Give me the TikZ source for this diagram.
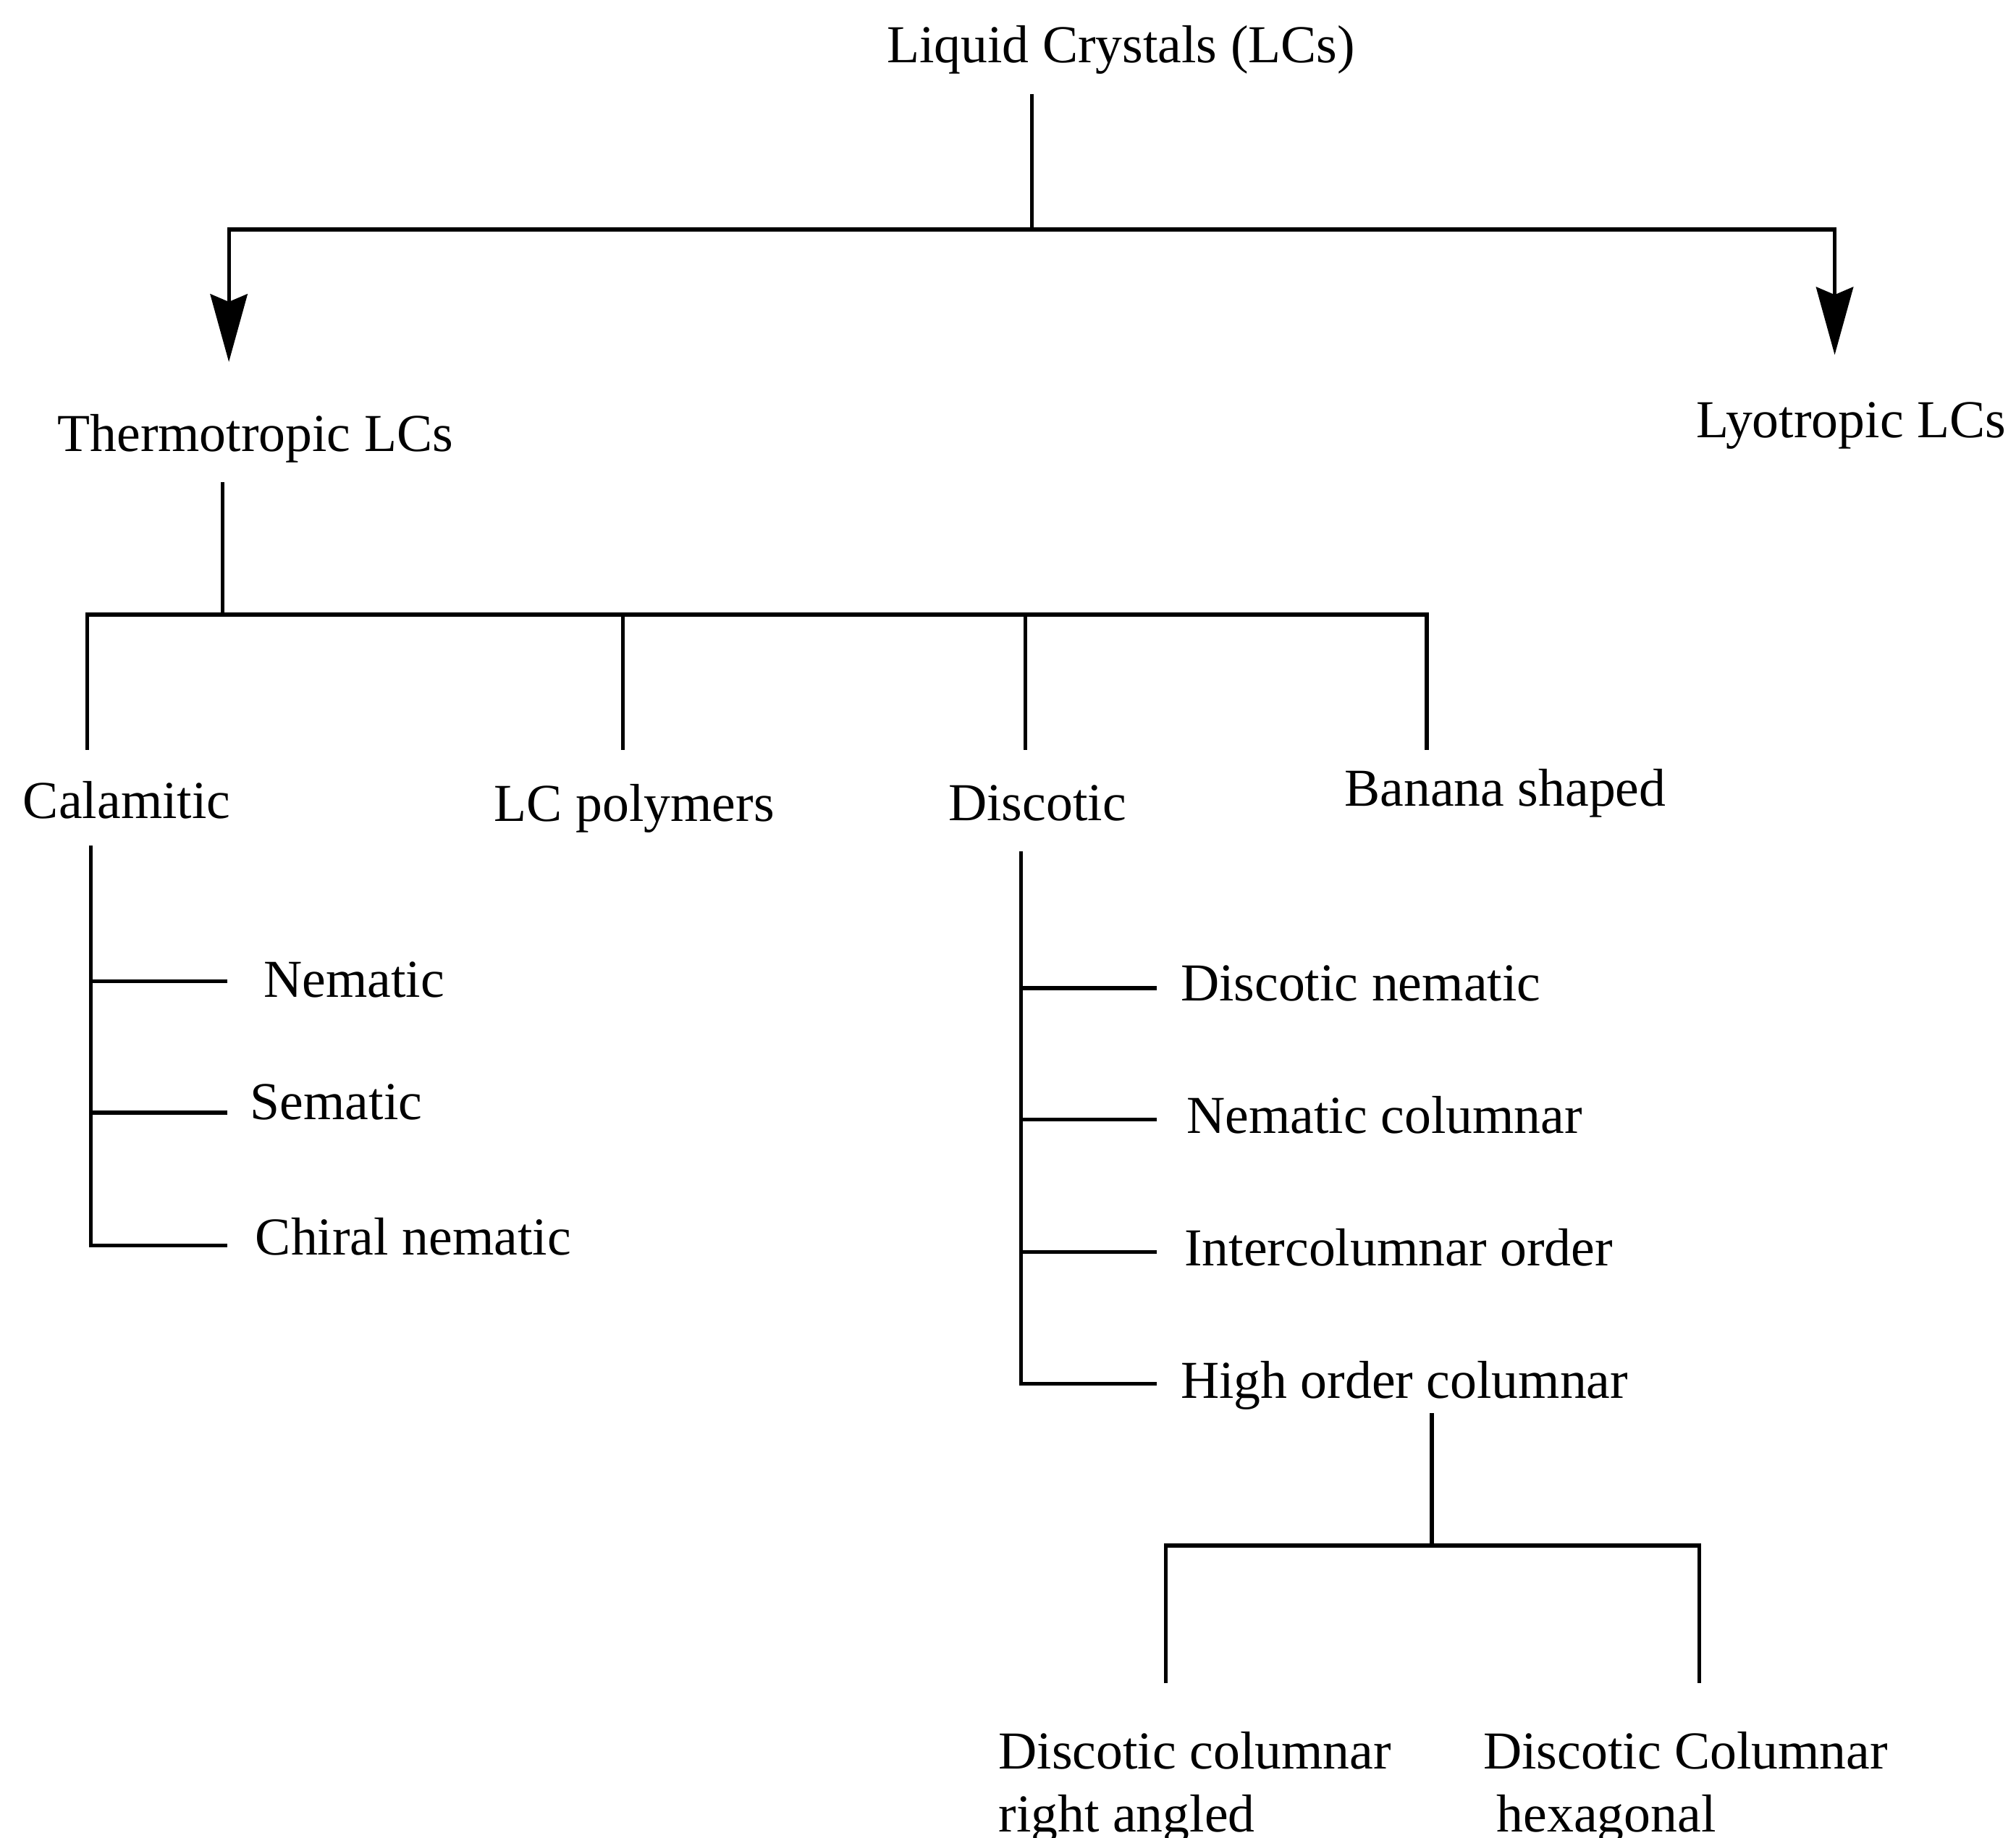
\documentclass[tikz,border=0pt]{standalone}
\usepackage{fontspec}
\setmainfont{Liberation Serif}
\usetikzlibrary{positioning,arrows.meta}
\tikzset{
  link/.style={line width=0.85pt, draw=black},
  arrowlink/.style={link, -{Stealth[length=15pt,width=8.2pt,inset=1.7pt]}},
  lbl/.style={anchor=base west, inner sep=0pt, font=\fontsize{11.8}{13.9}\selectfont}
}

\begin{document}
\begin{tikzpicture}[x=0.01cm, y=-0.01cm]
    \useasboundingbox (0,0) rectangle (1568,1429);

    % labels
    \node[lbl] (lc)   at (689,48.8)    {Liquid Crystals (LCs)};
    \node[lbl] (thermo) at (44,350.8)  {Thermotropic LCs};
    \node[lbl] (lyo)  at (1318.5,340.5) {Lyotropic LCs};

    \node[lbl] (cal)  at (17.3,636.3)  {Calamitic};
    \node[lbl] (lcp)  at (383.7,639)   {LC polymers};
    \node[lbl] (dis)  at (737,638.4)   {Discotic};
    \node[lbl] (ban)  at (1045,626.7)  {Banana shaped};

    \node[lbl] (nem)  at (204.3,775.7) {Nematic};
    \node[lbl] (sem)  at (194,870.5)   {Sematic};
    \node[lbl] (chi)  at (198,975.8)   {Chiral nematic};

    \node[lbl] (dnem) at (917.6,778.5) {Discotic nematic};
    \node[lbl] (ncol) at (922.3,881.5) {Nematic columnar};
    \node[lbl] (icol) at (920.5,984.6) {Intercolumnar order};
    \node[lbl] (hoc)  at (917.6,1087.7) {High order columnar};

    % two-line labels: base is the last line
    \node[lbl, align=left] (dcr) at (776,1424.5)  {Discotic columnar\\right angled};
    \node[lbl, align=left] (dch) at (1153,1424.5) {Discotic Columnar\\\ hexagonal};

    % top level
    \coordinate (lc0) at (802.5,73);
    \coordinate (lc1) at (802.5,178.5);
    \coordinate (thA) at (178,281.5);
    \coordinate (lyA) at (1427,276);

    \draw[link] (lc0) -- (lc1);
    \draw[arrowlink] (lc1) -| (thA);
    \draw[arrowlink] (lc1) -| (lyA);

    % thermotropic
    \coordinate (th0)  at (173,375);
    \coordinate (th1)  at (173,478);
    \coordinate (cal0) at (68,583);
    \coordinate (lcp0) at (484.6,583);
    \coordinate (dis0) at (797.5,583);
    \coordinate (ban0) at (1109.7,583);

    \draw[link] (th0) -- (th1);
    \draw[link] (cal0) |- (ban0 |- th1) -- (ban0);
    \draw[link] (lcp0) -- (lcp0 |- th1);
    \draw[link] (dis0) -- (dis0 |- th1);

    % calamitic
    \coordinate (cal1) at (70.7,657.6);
    \coordinate (nemL) at (176.8,763.3);
    \coordinate (semL) at (176.8,865.4);
    \coordinate (chiL) at (176.8,968.5);

    \draw[link] (cal1) |- (chiL);
    \draw[link] (nemL) -- (nemL -| cal1);
    \draw[link] (semL) -- (semL -| cal1);

    % discotic
    \coordinate (dis1)  at (794,662);
    \coordinate (dnemL) at (899.7,768.5);
    \coordinate (ncolL) at (899.7,870.5);
    \coordinate (icolL) at (899.7,973.8);
    \coordinate (hocL)  at (899.7,1076.3);

    \draw[link] (dis1) |- (hocL);
    \draw[link] (dnemL) -- (dnemL -| dis1);
    \draw[link] (ncolL) -- (ncolL -| dis1);
    \draw[link] (icolL) -- (icolL -| dis1);

    % high order columnar
    \coordinate (hoc0) at (1113.7,1099);
    \coordinate (hoc1) at (1113.7,1202);
    \coordinate (dcr0) at (906.6,1309);
    \coordinate (dch0) at (1321.5,1309);

    \draw[link] (hoc0) -- (hoc1);
    \draw[link] (dcr0) |- (dch0 |- hoc1) -- (dch0);
\end{tikzpicture}
\end{document}
